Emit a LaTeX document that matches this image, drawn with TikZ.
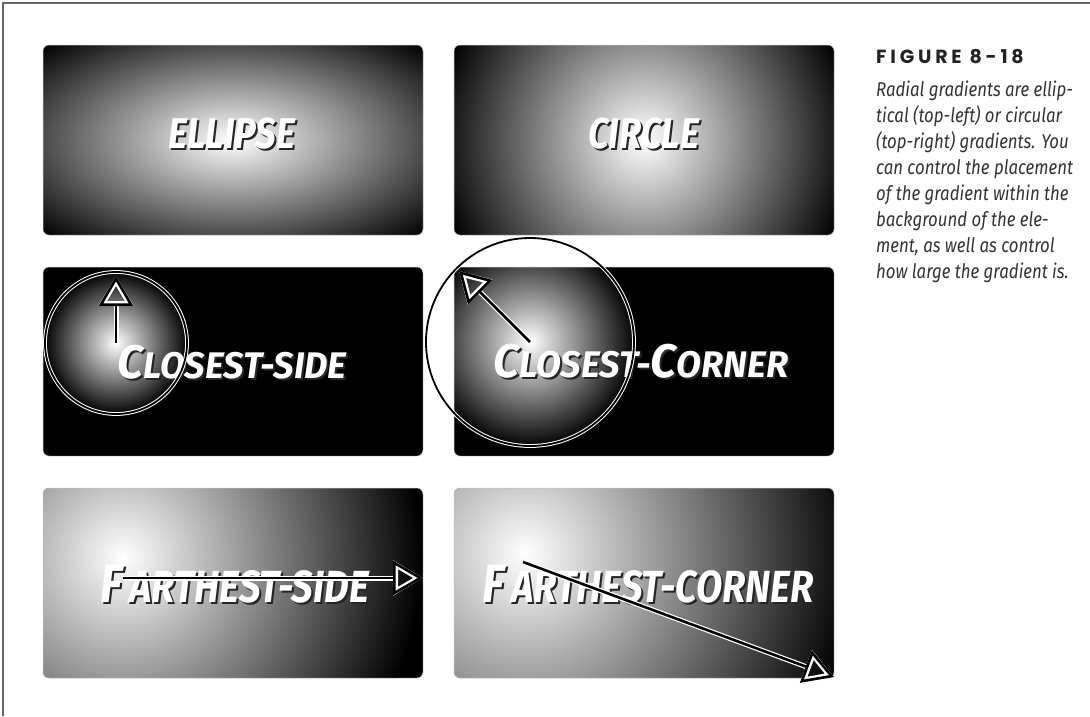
\documentclass[tikz,border=0pt]{standalone}
\usepackage{fontspec}
\setmainfont{Fira Sans}
\newfontfamily\headfont{Poppins}[LetterSpace=20]
\newfontfamily\capfont{Fira Sans}[FakeStretch=0.84]
\newfontfamily\panelfont{Fira Sans}[FakeStretch=0.85]
\newfontfamily\closefont{Fira Sans}[FakeStretch=0.98]
\usetikzlibrary{arrows.meta, positioning, calc}
\definecolor{framegray}{RGB}{102, 102, 102}
\definecolor{captiongray}{RGB}{51, 51, 51}
\definecolor{headblack}{RGB}{34, 34, 34}
\newcommand{\bigsc}[1]{{\fontsize{47}{47}\selectfont #1}}
\newcommand{\hugesc}[1]{{\fontsize{54}{54}\selectfont #1}}
\newcommand{\shadowtext}[1]{\makebox[0pt][l]{\kern2pt\raisebox{-2pt}{\color{black!85}#1}}#1}
\tikzset{
  panelbox/.style={draw=black!25, line width=0.5pt, rounded corners=6pt},
  paneltext/.style={text=white, inner sep=0pt, anchor=base west, font=\panelfont\bfseries\itshape\fontsize{37}{37}\selectfont},
  closetext/.style={paneltext, font=\closefont\bfseries\itshape\fontsize{37}{37}\selectfont},
  bigtext/.style={paneltext, font=\panelfont\bfseries\itshape\fontsize{43}{43}\selectfont},
  fartext/.style={paneltext, font=\panelfont\bfseries\itshape\fontsize{45}{45}\selectfont},
  markarrow/.style={-{Triangle[open, length=30pt, width=34pt]}, line width=2.6pt, black, preaction={draw=white, line width=5pt}},
  ringline/.style={draw=white, line width=1pt, double=black, double distance=1.8pt}
}

\begin{document}
\begin{tikzpicture}[x=1pt, y=-1pt]
    \useasboundingbox (0,0) rectangle (1090,716);
    \draw[framegray, line width=2pt] (1090,3) -- (3,3) -- (3,716);

    % panels with their radial glow
    \foreach \px/\py/\qx/\qy/\gx/\gy/\rx/\ry in {
      43/45/423/235/233/140/269/134,
      454/45/834/235/644/140/212/212,
      43/267/423/456/116/343/72/72,
      454/267/834/456/530/342/106/106,
      43/488/423/678/123/557/300/300,
      454/488/834/678/525/553/333/333}{
      \begin{scope}
        \clip[rounded corners=6pt] (\px,\py) rectangle (\qx,\qy);
        \fill[black] (\px,\py) rectangle (\qx,\qy);
        \shade[inner color=white, outer color=black] (\gx,\gy) ellipse [x radius=\rx, y radius=\ry];
      \end{scope}
      \draw[panelbox] (\px,\py) rectangle (\qx,\qy);
    }

    % labels
    \node (ellipseLabel) [bigtext] at (168,148) {\shadowtext{ELLIPSE}};
    \node (circleLabel) [bigtext] at (588,148) {\shadowtext{CIRCLE}};
    \node (sideLabel) [closetext] at (117,378) {\shadowtext{\bigsc{C}LOSEST-SIDE}};
    \node (cornerLabel) [closetext] at (493,377) {\shadowtext{\bigsc{C}LOSEST-\bigsc{C}ORNER}};
    \node (farSideLabel) [fartext] at (100,602) {\shadowtext{\hugesc{F}\,ARTHEST-SIDE}};
    \node (farCornerLabel) [fartext] at (482,602) {\shadowtext{\hugesc{F}\,ARTHEST-CORNER}};

    % rings and radius arrows
    \coordinate (sideCenter) at (116,343);
    \coordinate (sideTop) at (116,276);
    \coordinate (cornerCenter) at (530,342);
    \coordinate (cornerEnd) at (459,271);
    \coordinate (farSideStart) at (123,578);
    \coordinate (farSideEnd) at (423,578);
    \coordinate (farCornerStart) at (523,562);
    \coordinate (farCornerEnd) at (834,677);

    \draw[ringline] (sideCenter) circle [radius=71];
    \draw[ringline] (cornerCenter) circle [radius=104];
    \draw[markarrow] (sideCenter) -- (sideTop);
    \draw[markarrow] (cornerCenter) -- (cornerEnd);
    \draw[markarrow] (farSideStart) -- (farSideEnd);
    \draw[markarrow] (farCornerStart) -- (farCornerEnd);

    % caption
    \node (figLabel) [anchor=base west, inner sep=0pt, text=headblack, font=\headfont\bfseries\fontsize{19}{19}\selectfont] at (876,63) {FIGURE 8-18};
    \node (figText) [below=17pt of figLabel.south west, anchor=north west, inner sep=0pt, align=left, text=captiongray, font=\capfont\itshape\fontsize{20}{26}\selectfont] {Radial gradients are ellip-\\tical (top-left) or circular\\(top-right) gradients. You\\can control the placement\\of the gradient within the\\background of the ele-\\ment, as well as control\\how large the gradient is.};
\end{tikzpicture}
\end{document}
